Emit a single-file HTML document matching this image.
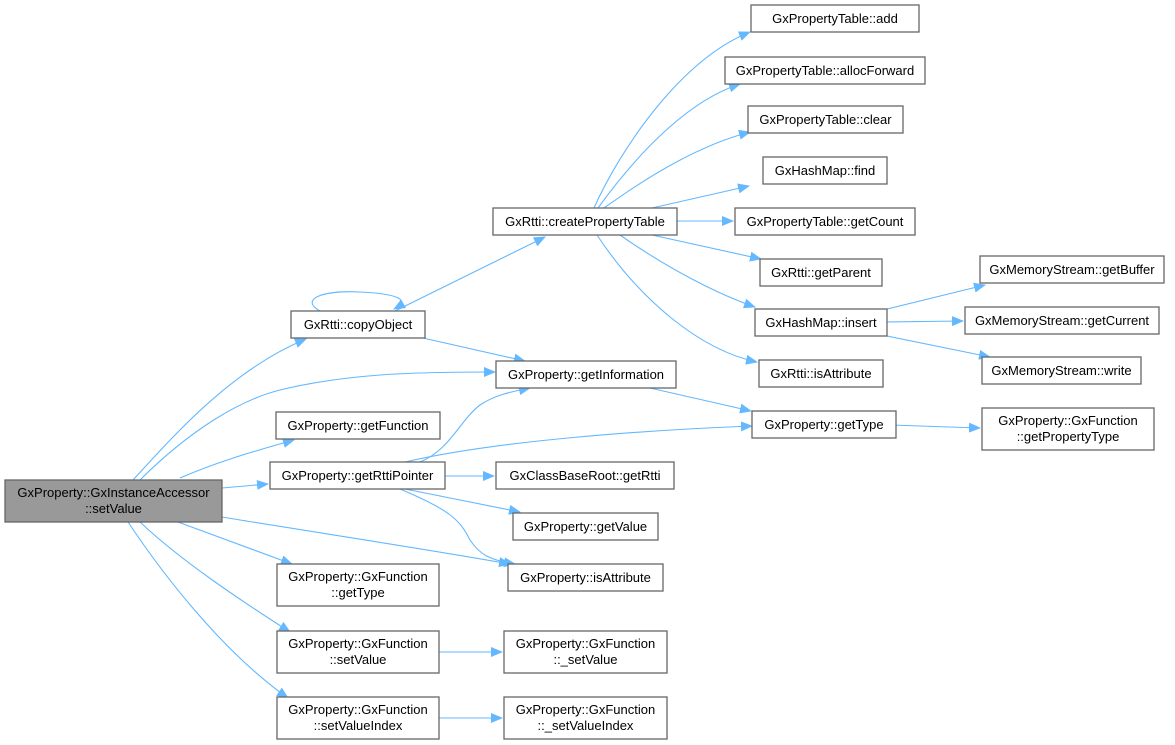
<!DOCTYPE html>
<html><head><meta charset="utf-8"><style>
html,body{margin:0;padding:0;background:#fff;}
svg{display:block;}
text{font-family:"Liberation Sans",Arial,sans-serif;font-size:13px;fill:#000;}
.b{fill:#fff;stroke:#666;stroke-width:1.3;}
.e{fill:none;stroke:#63b8ff;stroke-width:1.1;}
</style></head><body>
<svg width="1175" height="745" viewBox="0 0 1175 745" xmlns="http://www.w3.org/2000/svg">
<defs><marker id="a" markerWidth="12" markerHeight="10" refX="11" refY="5" orient="auto" markerUnits="userSpaceOnUse"><path d="M0,0 L12,5 L0,10 z" fill="#63b8ff"/></marker></defs>
<g class="e" marker-end="url(#a)">
<path d="M133,480 C170,440 230,370 306,339"/>
<path d="M140,480 C190,430 240,400 280,390 C350,373 420,372 495,372"/>
<path d="M180,478 C210,465 240,455 294,440"/>
<path d="M222,488 L268,484"/>
<path d="M222,517 C300,530 420,548 510,564"/>
<path d="M178,522 L292,564"/>
<path d="M140,522 C180,560 240,600 290,632"/>
<path d="M128,522 C160,570 220,650 288,698"/>
<path d="M439,652 L502,652"/>
<path d="M439,718 L502,718"/>
<path d="M320,311 C300,300 320,290 360,292 C400,294 410,300 394,309"/>
<path d="M395,311 L545,237"/>
<path d="M423,338 L525,361"/>
<path d="M594,208 C620,150 680,60 750,32"/>
<path d="M598,208 C640,150 690,100 740,84"/>
<path d="M604,208 C650,175 700,145 750,132"/>
<path d="M652,208 L749,186"/>
<path d="M677,221 L733,221"/>
<path d="M652,235 L761,259"/>
<path d="M620,235 C670,270 720,295 755,307"/>
<path d="M597,235 C640,300 700,350 757,362"/>
<path d="M887,309 L985,285"/>
<path d="M887,322 L963,321"/>
<path d="M887,336 L990,357"/>
<path d="M650,388 L751,411"/>
<path d="M890,425 L980,428"/>
<path d="M420,462 C450,450 460,420 480,405 C495,395 510,392 530,388"/>
<path d="M405,462 C500,440 650,430 752,426"/>
<path d="M445,476 L494,476"/>
<path d="M405,489 L520,512"/>
<path d="M400,489 C450,510 460,520 470,540 C480,555 490,560 515,564"/>
</g>
<rect class="b" x="5" y="480" width="217" height="42" style="fill:#999"/>
<text x="113.5" y="497" text-anchor="middle">GxProperty::GxInstanceAccessor</text>
<text x="113.5" y="513" text-anchor="middle">::setValue</text>
<g text-anchor="middle">
<rect class="b" x="291" y="311" width="134" height="27"/><text x="358" y="329">GxRtti::copyObject</text>
<rect class="b" x="493" y="208" width="184" height="27"/><text x="585" y="226">GxRtti::createPropertyTable</text>
<rect class="b" x="751" y="5" width="168" height="27"/><text x="835" y="23">GxPropertyTable::add</text>
<rect class="b" x="725" y="57" width="200" height="27"/><text x="825" y="75">GxPropertyTable::allocForward</text>
<rect class="b" x="748" y="106" width="155" height="27"/><text x="825.5" y="124">GxPropertyTable::clear</text>
<rect class="b" x="763" y="157" width="124" height="27"/><text x="825" y="175">GxHashMap::find</text>
<rect class="b" x="735" y="208" width="180" height="27"/><text x="825" y="226">GxPropertyTable::getCount</text>
<rect class="b" x="760" y="259" width="122" height="27"/><text x="821" y="277">GxRtti::getParent</text>
<rect class="b" x="755" y="309" width="132" height="27"/><text x="821" y="327">GxHashMap::insert</text>
<rect class="b" x="759" y="360" width="124" height="27"/><text x="821" y="378">GxRtti::isAttribute</text>
<rect class="b" x="980" y="256" width="184" height="27"/><text x="1072" y="274">GxMemoryStream::getBuffer</text>
<rect class="b" x="965" y="307" width="194" height="27"/><text x="1062" y="325">GxMemoryStream::getCurrent</text>
<rect class="b" x="982" y="357" width="159" height="27"/><text x="1061.5" y="375">GxMemoryStream::write</text>
<rect class="b" x="496" y="361" width="180" height="27"/><text x="586" y="379">GxProperty::getInformation</text>
<rect class="b" x="276" y="412" width="164" height="27"/><text x="358" y="430">GxProperty::getFunction</text>
<rect class="b" x="270" y="462" width="175" height="27"/><text x="357.5" y="480">GxProperty::getRttiPointer</text>
<rect class="b" x="752" y="411" width="144" height="27"/><text x="824" y="429">GxProperty::getType</text>
<rect class="b" x="982" y="408" width="172" height="42"/><text x="1068" y="425">GxProperty::GxFunction</text><text x="1068" y="441">::getPropertyType</text>
<rect class="b" x="496" y="462" width="178" height="27"/><text x="585" y="480">GxClassBaseRoot::getRtti</text>
<rect class="b" x="513" y="513" width="145" height="27"/><text x="585.5" y="531">GxProperty::getValue</text>
<rect class="b" x="508" y="564" width="155" height="27"/><text x="585.5" y="582">GxProperty::isAttribute</text>
<rect class="b" x="277" y="564" width="162" height="42"/><text x="358" y="581">GxProperty::GxFunction</text><text x="358" y="597">::getType</text>
<rect class="b" x="277" y="631" width="162" height="42"/><text x="358" y="648">GxProperty::GxFunction</text><text x="358" y="664">::setValue</text>
<rect class="b" x="277" y="697" width="162" height="42"/><text x="358" y="714">GxProperty::GxFunction</text><text x="358" y="730">::setValueIndex</text>
<rect class="b" x="504" y="631" width="163" height="42"/><text x="585.5" y="648">GxProperty::GxFunction</text><text x="585.5" y="664">::_setValue</text>
<rect class="b" x="504" y="697" width="163" height="42"/><text x="585.5" y="714">GxProperty::GxFunction</text><text x="585.5" y="730">::_setValueIndex</text>
</g>
</svg>
</body></html>
